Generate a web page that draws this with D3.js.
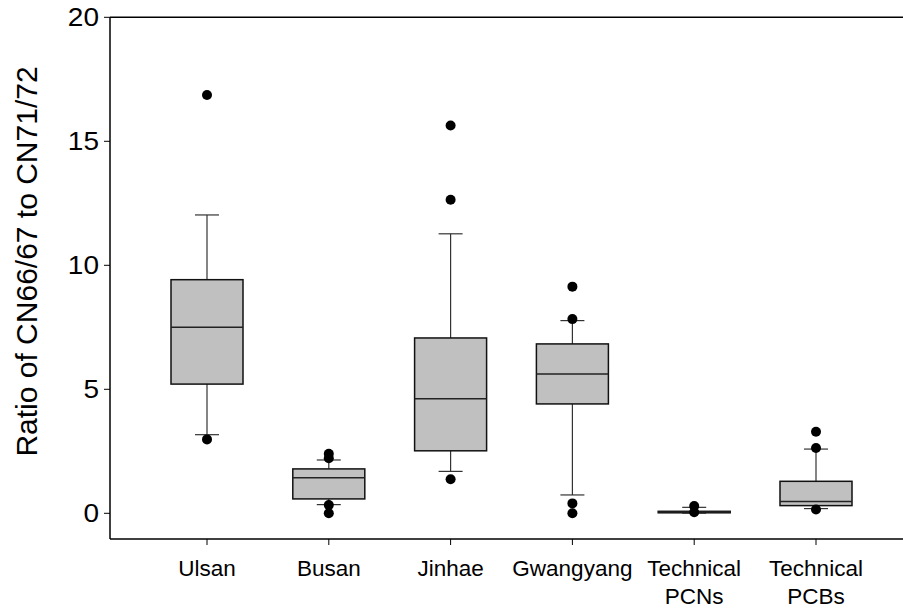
<!DOCTYPE html>
<html>
<head>
<meta charset="utf-8">
<script src="https://cdn.jsdelivr.net/npm/d3@7"></script>
<style>
  html, body { margin: 0; padding: 0; background: #fff; }
  svg { display: block; }
  text { font-family: "Liberation Sans", Arial, Helvetica, sans-serif; fill: #000; }
</style>
</head>
<body>
<svg id="chart" width="903" height="608"></svg>
<script>
// Box-plot summary per sampling site / technical mixture
const categories = ["Ulsan", "Busan", "Jinhae", "Gwangyang", "Technical\nPCNs", "Technical\nPCBs"];
const q1         = [5.21, 0.58, 2.52, 4.41, 0.02, 0.31];
const medians    = [7.50, 1.43, 4.62, 5.62, 0.05, 0.48];
const q3         = [9.42, 1.79, 7.07, 6.83, 0.08, 1.29];
const whiskerLow = [3.17, 0.35, 1.69, 0.74, 0.01, 0.19];
const whiskerHigh= [12.03, 2.15, 11.27, 7.77, 0.24, 2.59];
const outliers   = [
  [16.87, 2.98],
  [2.40, 2.22, 0.33, 0.0],
  [15.64, 12.64, 1.37],
  [9.14, 7.83, 0.40, 0.0],
  [0.29, 0.04],
  [3.29, 2.63, 0.15]
];
const yTicks = [0, 5, 10, 15, 20];
const yLabel = "Ratio of CN66/67 to CN71/72";

const svg = d3.select("#chart");

const plotLeft = 110, plotRight = 903, plotTop = 17.3, axisY = 539;

const x = d3.scalePoint()
  .domain(categories)
  .range([207, 816]);

const y = d3.scaleLinear()
  .domain([0, 20])
  .range([513.3, plotTop]);

const boxW = 72, capW = 24;

// frame: top border line
svg.append("line")
  .attr("x1", plotLeft).attr("x2", plotRight)
  .attr("y1", plotTop).attr("y2", plotTop)
  .attr("stroke", "#000").attr("stroke-width", 1.5);

// y axis
svg.append("line")
  .attr("x1", plotLeft).attr("x2", plotLeft)
  .attr("y1", plotTop).attr("y2", axisY)
  .attr("stroke", "#000").attr("stroke-width", 1.5);

const yAxis = svg.append("g");
yAxis.selectAll("line.tick")
  .data(yTicks).join("line")
  .attr("class", "tick")
  .attr("x1", plotLeft - 6).attr("x2", plotLeft)
  .attr("y1", d => y(d)).attr("y2", d => y(d))
  .attr("stroke", "#000").attr("stroke-width", 1);
yAxis.selectAll("text")
  .data(yTicks).join("text")
  .attr("transform", d => `translate(99,${y(d)}) scale(1.12,1)`)
  .attr("dy", "0.36em")
  .attr("text-anchor", "end")
  .attr("font-size", 25)
  .text(d => d);

// x axis
svg.append("line")
  .attr("x1", plotLeft).attr("x2", plotRight)
  .attr("y1", axisY).attr("y2", axisY)
  .attr("stroke", "#000").attr("stroke-width", 1.5);

const xAxis = svg.append("g");
xAxis.selectAll("line")
  .data(categories).join("line")
  .attr("x1", d => x(d)).attr("x2", d => x(d))
  .attr("y1", axisY).attr("y2", axisY + 6)
  .attr("stroke", "#000").attr("stroke-width", 1);

xAxis.selectAll("text")
  .data(categories).join("text")
  .attr("text-anchor", "middle")
  .attr("font-size", 22.5)
  .each(function(d) {
    const lines = d.split("\n");
    d3.select(this).selectAll("tspan")
      .data(lines).join("tspan")
      .attr("x", x(d))
      .attr("y", (l, i) => 576 + i * 28)
      .text(l => l);
  });

// y axis title
svg.append("text")
  .attr("transform", "translate(37,261.5) rotate(-90)")
  .attr("text-anchor", "middle")
  .attr("font-size", 30)
  .text(yLabel);

// boxes
const g = svg.append("g");
categories.forEach((c, i) => {
  const cx = x(c);
  const grp = g.append("g");
  // whiskers
  grp.append("line")
    .attr("x1", cx).attr("x2", cx)
    .attr("y1", y(q3[i])).attr("y2", y(whiskerHigh[i]))
    .attr("stroke", "#333").attr("stroke-width", 1.2);
  grp.append("line")
    .attr("x1", cx).attr("x2", cx)
    .attr("y1", y(q1[i])).attr("y2", y(whiskerLow[i]))
    .attr("stroke", "#333").attr("stroke-width", 1.2);
  [whiskerHigh[i], whiskerLow[i]].forEach(v => {
    grp.append("line")
      .attr("x1", cx - capW / 2).attr("x2", cx + capW / 2)
      .attr("y1", y(v)).attr("y2", y(v))
      .attr("stroke", "#333").attr("stroke-width", 1.2);
  });
  // box
  grp.append("rect")
    .attr("x", cx - boxW / 2)
    .attr("y", y(q3[i]))
    .attr("width", boxW)
    .attr("height", y(q1[i]) - y(q3[i]))
    .attr("fill", "#c0c0c0")
    .attr("stroke", "#111").attr("stroke-width", 1.5);
  // median
  grp.append("line")
    .attr("x1", cx - boxW / 2).attr("x2", cx + boxW / 2)
    .attr("y1", y(medians[i])).attr("y2", y(medians[i]))
    .attr("stroke", "#222").attr("stroke-width", 1.5);
  // outliers
  grp.selectAll("circle")
    .data(outliers[i]).join("circle")
    .attr("cx", cx)
    .attr("cy", d => y(d))
    .attr("r", 5)
    .attr("fill", "#000");
});
</script>
</body>
</html>
